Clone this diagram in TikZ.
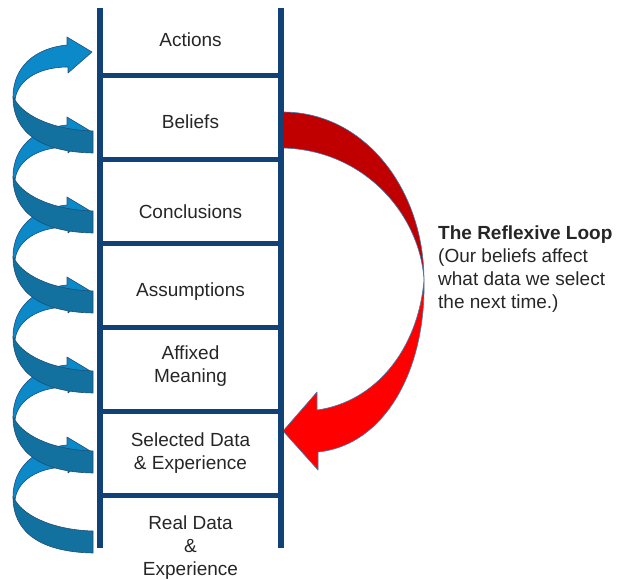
\documentclass[tikz,border=0pt]{standalone}
\usepackage{fontspec}
\setmainfont{Liberation Sans}
\usepackage{tikz}
\definecolor{ladder}{HTML}{104278}
\definecolor{ink}{HTML}{262626}
\definecolor{coillight}{HTML}{0B89C9}
\definecolor{coildark}{HTML}{13719F}
\definecolor{coiledge}{HTML}{1F4E79}
\definecolor{loopdark}{HTML}{C00000}
\definecolor{loopred}{HTML}{FF0000}
\definecolor{loopedge}{HTML}{3A7DB0}

\begin{document}
\begin{tikzpicture}[
  x=1pt, y=-1pt,
  rail/.style={draw=ladder, line width=6pt},
  rung/.style={draw=ladder, line width=5pt},
  rungtext/.style={
    text=ink,
    align=center,
    font=\fontsize{19}{23}\selectfont
  },
  coilfront/.style={fill=coillight, draw=coiledge, line width=0.6pt, line join=round},
  coilback/.style={fill=coildark, draw=coiledge, line width=0.6pt, line join=round},
  loopback/.style={fill=loopdark, draw=loopedge, line width=0.6pt, line join=round},
  loopfront/.style={fill=loopred, draw=loopedge, line width=0.6pt, line join=round}
]
\useasboundingbox (0,0) rectangle (620,579);

% coil up the left side, lowest turn first
\foreach \y in {452,372,292,212,132,52} {
  \begin{scope}[shift={(0,\y)}]
    \draw[coilfront] (67,-7) .. controls (35,-4) and (13,15) .. (13,45) -- (15,48)
      .. controls (17,30) and (36,15) .. (68,15) -- (68,21) -- (92,0) -- (67,-15) -- cycle;
    \draw[coilback] (13,45) .. controls (13,80) and (40,100) .. (93,101) -- (93,79)
      .. controls (55,78) and (25,65) .. (15,48) -- cycle;
  \end{scope}
}

% reflexive loop
\draw[loopback] (283,112) .. controls (365,112) and (424,190) .. (424,280)
  .. controls (420,215) and (365,150) .. (283,148) -- cycle;
\draw[loopfront] (424,280) .. controls (426,370) and (385,445) .. (318,452)
  -- (318,470) -- (283,431) -- (317,392) -- (317,410)
  .. controls (375,402) and (418,350) .. (424,280) -- cycle;

% ladder
\draw[rail] (100,8) -- (100,548);
\draw[rail] (281,8) -- (281,548);
\foreach \r in {75,159,243,327,411,495}
  \draw[rung] (100,\r) -- (281,\r);

\node[rungtext] (actions) at (190.5,40) {Actions};
\node[rungtext] (beliefs) at (190.5,122) {Beliefs};
\node[rungtext] (conclusions) at (190.5,212) {Conclusions};
\node[rungtext] (assumptions) at (190.5,292) {Assumptions};
\node[rungtext] (meaning) at (190.5,366.5) {Affixed\\Meaning};
\node[rungtext] (selected) at (190.5,453.5) {Selected Data\\\& Experience};
\node[rungtext] (realdata) at (190.5,548) {Real Data\\\&\\Experience};

\node[rungtext, align=left, anchor=west, inner sep=0pt] (reflexive) at (438,269.5)
  {\textbf{The Reflexive Loop}\\(Our beliefs affect\\what data we select\\the next time.)};

\end{tikzpicture}
\end{document}
